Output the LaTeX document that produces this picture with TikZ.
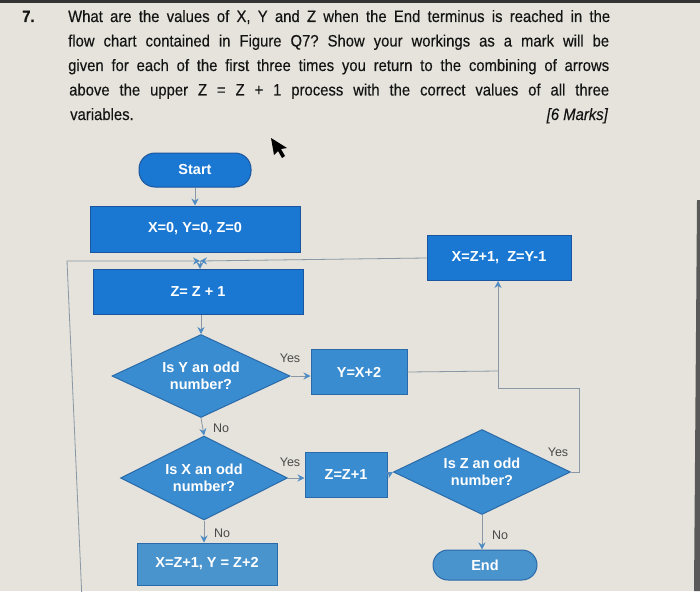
\documentclass[tikz,border=0pt]{standalone}
\usepackage{fontspec}
\setmainfont{Liberation Sans}
\newfontfamily\qfont[FakeStretch=0.9,FakeBold=0.3]{Liberation Sans}
\usetikzlibrary{shapes.geometric,arrows.meta}
\definecolor{paper}{HTML}{E5E3DB}
\definecolor{blueA}{HTML}{1B78D2}
\definecolor{blueB}{HTML}{3A8CD0}
\definecolor{blueC}{HTML}{4A94CE}
\definecolor{edgeA}{HTML}{1A559E}
\definecolor{edgeB}{HTML}{2A6AA8}
\definecolor{linec}{HTML}{8A97A5}
\definecolor{tipc}{HTML}{4F8CC4}
\definecolor{inkc}{HTML}{141414}
\definecolor{labc}{HTML}{4A4A4A}
\begin{document}
\frenchspacing
\begin{tikzpicture}[x=1pt,y=-1pt,
  qtext/.style={anchor=base west,inner sep=0,text=inkc,font=\qfont\fontsize{16.5}{19}\selectfont},
  proc/.style={rectangle,draw=edgeA,line width=1pt,fill=blueA,text=white,inner sep=0,
    font=\bfseries\fontsize{14.5}{17}\selectfont,align=center},
  procb/.style={proc,fill=blueB,draw=edgeB},
  term/.style={proc,rounded corners=16pt},
  dec/.style={diamond,shape aspect=2,draw=edgeB,line width=1pt,fill=blueB,text=white,inner sep=0,
    font=\bfseries\fontsize{14.5}{17}\selectfont,align=center},
  flow/.style={draw=linec,line width=0.8pt},
  arr/.style={flow,-{Stealth[length=7pt,width=7pt,color=tipc]}},
  lab/.style={text=labc,inner sep=0,font=\fontsize{12.5}{14}\selectfont}
]
\useasboundingbox (0,0) rectangle (700,591);
\fill[paper] (0,0) rectangle (700,591);
\fill[black!80] (0,0) rectangle (700,3);
\fill[black!65] (697,200) -- (700,200) -- (700,591) -- (694,591) -- cycle;

% question text
\node[qtext,font=\qfont\bfseries\fontsize{16.5}{19}\selectfont] (qnum) at (22,22) {7.};
\node[qtext] (q1) at (68,22) {\makebox[542pt][s]{What are the values of X, Y and Z when the End terminus is reached in the}};
\node[qtext] (q2) at (68,46.5) {\makebox[541pt][s]{flow chart contained in Figure Q7? Show your workings as a mark will be}};
\node[qtext] (q3) at (68,71) {\makebox[541pt][s]{given for each of the first three times you return to the combining of arrows}};
\node[qtext] (q4) at (69,95.5) {\makebox[540pt][s]{above the upper Z = Z + 1 process with the correct values of all three}};
\node[qtext] (q5) at (70,120) {variables.};
\node[qtext,anchor=base east,font=\qfont\itshape\fontsize{16.5}{19}\selectfont] (marks) at (608,120) {[6 Marks]};

% cursor
\fill[black] (271,138) -- (274,155) -- (278,151) -- (282,158) -- (285,156) -- (281,149) -- (287,148) -- cycle;

% nodes
\node[term,minimum width=112pt,minimum height=34pt] (start) at (195,170) {Start};
\node[proc,minimum width=210pt,minimum height=46pt] (init) at (195,229) {X=0, Y=0, Z=0};
\node[proc,minimum width=210pt,minimum height=45pt] (zinc) at (198,292) {Z= Z + 1};
\node[proc,minimum width=144pt,minimum height=45pt] (xzy) at (499,258) {X=Z+1,\ \ Z=Y-1};
\node[dec,minimum width=178pt,minimum height=83pt] (dy) at (201,376) {Is Y an odd\\number?};
\node[procb,minimum width=96pt,minimum height=45pt] (yx) at (359,372) {Y=X+2};
\node[dec,minimum width=167pt,minimum height=84pt] (dx) at (204,478) {Is X an odd\\number?};
\node[procb,minimum width=82pt,minimum height=45pt] (zz) at (346,475) {Z=Z+1};
\node[dec,minimum width=177pt,minimum height=85pt] (dz) at (482,472) {Is Z an odd\\number?};
\node[term,procb,rounded corners=15pt,fill=blueC,minimum width=104pt,minimum height=30pt] (endn) at (485,565) {End};
\node[procb,fill=blueC,minimum width=140pt,minimum height=42pt] (xz2) at (207,564) {X=Z+1, Y = Z+2};

% coordinates
\coordinate (merge) at (200,261);
\coordinate (loopT) at (67,261);
\coordinate (loopB) at (82,600);
\coordinate (c1) at (579,472);
\coordinate (c2) at (579,388);
\coordinate (c3) at (498,388);
\coordinate (j1) at (498,371);

% connectors
\draw[arr] (start) -- (init);
\draw[arr] (loopB) -- (loopT) -- (merge);
\draw[arr] (xzy.west) -- (merge);
\draw[arr] (merge) -- (zinc.north -| merge);
\draw[arr] (zinc.south -| dy.north) -- (dy.north);
\draw[arr] (dy.east) -- (yx.west |- dy.east);
\draw[arr] (dy.south) -- (dx.north);
\draw[arr] (dx.east) -- (zz.west |- dx.east);
\draw[arr] (zz.east) -- (dz.west);
\draw[arr] (dz.south) -- (endn.north -| dz.south);
\draw[arr] (dx.south) -- (xz2.north -| dx.south);
\draw[flow] (yx.east) -- (j1);
\draw[arr] (dz.east) -- (c1) -- (c2) -- (c3) -- (c3 |- xzy.south);

% labels
\node[lab] (ly1) at (290,358) {Yes};
\node[lab] (ln1) at (221,428) {No};
\node[lab] (ly2) at (290,462) {Yes};
\node[lab] (ln2) at (222,533) {No};
\node[lab] (ly3) at (558,452) {Yes};
\node[lab] (ln3) at (500,535) {No};
\end{tikzpicture}
\end{document}
